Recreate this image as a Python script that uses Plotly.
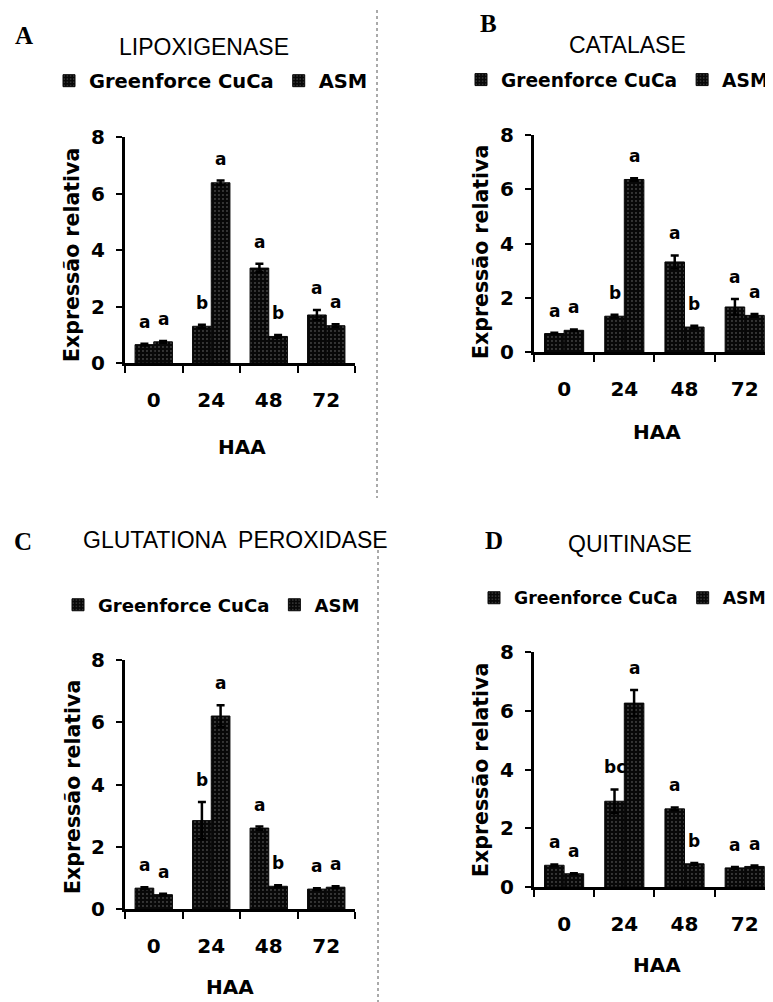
import plotly.graph_objects as go

# the page places the figure at (8, 8) because of the body margin
OFF = 8
W, H = 773 - OFF, 1002 - OFF

categories = ["0", "24", "48", "72"]
series_names = ["Greenforce CuCa", "ASM"]

panel_letters = ["A", "B", "C", "D"]
panel_titles = ["LIPOXIGENASE", "CATALASE", "GLUTATIONA  PEROXIDASE", "QUITINASE"]
y_title = "Expressão relativa"
x_title = "HAA"

# values (relative expression)
lox_gf = [0.65, 1.30, 3.36, 1.70]
lox_asm = [0.75, 6.38, 0.94, 1.32]
lox_gf_err = [0.03, 0.05, 0.15, 0.18]
lox_asm_err = [0.03, 0.08, 0.05, 0.05]
lox_gf_lab = ["a", "b", "a", "a"]
lox_asm_lab = ["a", "a", "b", "a"]

cat_gf = [0.68, 1.32, 3.32, 1.66]
cat_asm = [0.80, 6.36, 0.92, 1.35]
cat_gf_err = [0.03, 0.05, 0.24, 0.29]
cat_asm_err = [0.03, 0.05, 0.05, 0.05]
cat_gf_lab = ["a", "b", "a", "a"]
cat_asm_lab = ["a", "a", "b", "a"]

gpx_gf = [0.67, 2.84, 2.60, 0.64]
gpx_asm = [0.46, 6.20, 0.73, 0.70]
gpx_gf_err = [0.03, 0.60, 0.05, 0.03]
gpx_asm_err = [0.03, 0.35, 0.03, 0.03]
gpx_gf_lab = ["a", "b", "a", "a"]
gpx_asm_lab = ["a", "a", "b", "a"]

chi_gf = [0.74, 2.92, 2.66, 0.65]
chi_asm = [0.45, 6.26, 0.79, 0.70]
chi_gf_err = [0.03, 0.40, 0.05, 0.03]
chi_asm_err = [0.02, 0.45, 0.03, 0.03]
chi_gf_lab = ["a", "bc", "a", "a"]
chi_asm_lab = ["a", "a", "b", "a"]

y_ticks = [0, 2, 4, 6, 8]

panels = [
    (lox_gf, lox_asm, lox_gf_err, lox_asm_err, lox_gf_lab, lox_asm_lab),
    (cat_gf, cat_asm, cat_gf_err, cat_asm_err, cat_gf_lab, cat_asm_lab),
    (gpx_gf, gpx_asm, gpx_gf_err, gpx_asm_err, gpx_gf_lab, gpx_asm_lab),
    (chi_gf, chi_asm, chi_gf_err, chi_asm_err, chi_gf_lab, chi_asm_lab),
]

# layout geometry (pixels, in the final screenshot's coordinates)
geo = [
    dict(x0=125, x1=355, xr=[-0.5, 3.5], ytop=137, ybot=363, letter=(24, 35, "middle"), title=(204, 47),
         leg=(49, 81), legsize=19.5, ytitle=(72, 255), haa=(242, 447)),
    dict(x0=534, x1=773, xr=[-0.5, 3.47], ytop=135, ybot=352, letter=(488, 8, "top"), title=(627, 45),
         leg=(461, 80), legsize=18.6, ytitle=(481, 252), haa=(657, 432)),
    dict(x0=125, x1=355, xr=[-0.5, 3.5], ytop=660, ybot=909, letter=(23, 541, "middle"), title=(235, 540),
         leg=(58, 605), legsize=18.1, ytitle=(73, 787), haa=(230, 987)),
    dict(x0=534, x1=773, xr=[-0.5, 3.47], ytop=652, ybot=887, letter=(494, 540, "middle"), title=(630, 544),
         leg=(474, 598), legsize=17.3, ytitle=(481, 770), haa=(657, 965)),
]

px = lambda v: (v - OFF) / W
py = lambda v: 1 - (v - OFF) / H

BARGAP = 0.35
FONT = "Liberation Sans"
BOLD = "DejaVu Sans"

fig = go.Figure()
annotations = []
layout = {}

pattern = dict(shape=".", fgcolor="#777777", bgcolor="#080808", size=4, solidity=0.1, fillmode="replace")

for i, (gf, asm, gfe, asme, gfl, asml) in enumerate(panels):
    n = "" if i == 0 else str(i + 1)
    g = geo[i]
    legname = "legend" if i == 0 else f"legend{i + 1}"
    for s, (vals, errs) in enumerate([(gf, gfe), (asm, asme)]):
        fig.add_trace(go.Bar(
            x=categories, y=vals, name=series_names[s],
            xaxis="x" + n, yaxis="y" + n, legend=legname,
            marker=dict(color="#080808", pattern=pattern, line=dict(color="#080808", width=1)),
            error_y=dict(type="data", array=errs, visible=True, color="black", thickness=2.5, width=4),
            showlegend=True,
        ))
    layout["xaxis" + n] = dict(
        domain=[px(g["x0"]), min(1.0, px(g["x1"]))], anchor="y" + n, range=g["xr"], type="category",
        showline=True, linecolor="black", linewidth=3, ticks="outside", tickson="boundaries",
        ticklen=7, tickwidth=2, tickcolor="black", ticklabelstandoff=17,
        tickfont=dict(family=BOLD, size=20, color="black", weight="bold"), showgrid=False,
        zeroline=False, fixedrange=True,
    )
    layout["yaxis" + n] = dict(
        domain=[py(g["ybot"]), py(g["ytop"])], anchor="x" + n, range=[0, 8],
        tickvals=y_ticks, showline=True, linecolor="black", linewidth=3, ticks="outside",
        ticklen=6, tickwidth=2, tickcolor="black", ticklabelstandoff=7,
        tickfont=dict(family=BOLD, size=20, color="black", weight="bold"), showgrid=False,
        zeroline=False, fixedrange=True,
    )
    layout[legname] = dict(
        orientation="h", x=px(g["leg"][0]), y=py(g["leg"][1]), xanchor="left", yanchor="middle",
        font=dict(family=BOLD, size=g["legsize"], color="black", weight="bold"),
        bgcolor="rgba(0,0,0,0)", itemwidth=30, traceorder="normal", tracegroupgap=0,
    )
    off = (1 - BARGAP) / 4
    for k in range(len(categories)):
        for s, (vals, errs, labs) in enumerate([(gf, gfe, gfl), (asm, asme, asml)]):
            annotations.append(dict(
                x=k + (-off if s == 0 else off), y=vals[k] + errs[k], xref="x" + n, yref="y" + n,
                text=labs[k], showarrow=False, xanchor="center", yanchor="middle", yshift=22,
                font=dict(family=BOLD, size=17, color="black", weight="bold"),
            ))
    common = dict(xref="paper", yref="paper", showarrow=False, xanchor="center")
    annotations.append(dict(x=px(g["letter"][0]), y=py(g["letter"][1]), yanchor=g["letter"][2],
                            text="<b>" + panel_letters[i] + "</b>",
                            font=dict(family="Liberation Serif", size=25, color="black"), **common))
    annotations.append(dict(x=px(g["title"][0]), y=py(g["title"][1]), text=panel_titles[i],
                            yanchor="middle", font=dict(family=FONT, size=23, color="black"), **common))
    annotations.append(dict(x=px(g["ytitle"][0]), y=py(g["ytitle"][1]), text=y_title, textangle=-90,
                            yanchor="middle",
                            font=dict(family=BOLD, size=20.5, color="black", weight="bold"), **common))
    annotations.append(dict(x=px(g["haa"][0]), y=py(g["haa"][1]), text=x_title, yanchor="middle",
                            font=dict(family=BOLD, size=20, color="black", weight="bold"), **common))

shapes = [
    dict(type="line", xref="paper", yref="paper", x0=px(377), x1=px(377), y0=py(10), y1=py(498),
         line=dict(color="#555", width=1, dash="dot")),
    dict(type="line", xref="paper", yref="paper", x0=px(378), x1=px(378), y0=py(550), y1=py(1002),
         line=dict(color="#555", width=1, dash="dot")),
]

fig.update_layout(
    width=W, height=H, margin=dict(l=0, r=0, t=0, b=0, autoexpand=False),
    paper_bgcolor="white", plot_bgcolor="white",
    barmode="group", bargap=BARGAP, bargroupgap=0, annotations=annotations, shapes=shapes,
    **layout,
)

fig.write_html("out.html")
